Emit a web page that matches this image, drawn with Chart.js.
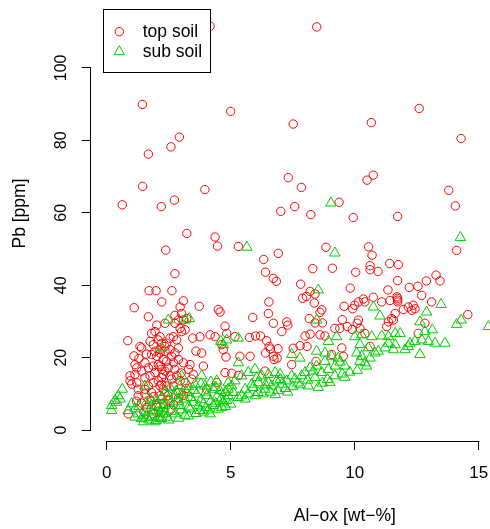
<!DOCTYPE html>
<html lang="en">
<head>
<meta charset="UTF-8">
<title>Pb vs Al-ox</title>
<script src="https://cdn.jsdelivr.net/npm/chart.js"></script>
<style>
  html, body { margin: 0; padding: 0; background: #fff; }
  .frame { position: relative; width: 490px; height: 529px; overflow: hidden; }
  #plot { position: absolute; left: 0; top: -21px; }
</style>
</head>
<body>
<div class="frame"><canvas id="plot" width="610" height="550"></canvas></div>
<script>
// [Al-ox wt-%, Pb ppm]
const topSoil = [
  [4.17,111.5],[8.47,111.3],[1.44,89.9],[5.0,88.0],[12.6,88.8],[10.67,84.9],[7.52,84.5],[2.93,80.9],
  [14.29,80.5],[2.59,78.2],[1.68,76.2],[10.75,70.4],[10.5,69.0],[7.32,69.7],[1.45,67.3],[3.96,66.4],
  [7.85,67.0],[13.79,66.2],[9.37,62.9],[0.63,62.2],[2.2,61.7],[2.73,63.5],[7.58,61.7],[7.02,60.4],
  [14.06,61.9],[8.23,59.5],[9.94,58.7],[11.73,59.0],[3.23,54.3],[4.37,53.3],[4.47,50.8],[2.38,49.7],
  [5.31,50.7],[8.84,50.5],[10.56,50.6],[14.11,49.6],[6.92,48.8],[10.7,48.3],[6.33,47.1],[11.41,46.0],
  [11.76,45.7],[10.62,45.4],[10.62,44.3],[8.31,44.6],[9.1,44.7],[10.94,43.8],[10.04,43.6],[6.4,43.6],
  [2.75,43.2],[6.72,41.9],[6.84,41.1],[11.73,41.3],[13.28,42.8],[13.44,41.2],[12.89,41.2],[7.82,40.3],
  [12.2,39.4],[12.55,39.7],[9.82,39.2],[11.34,38.7],[8.2,38.3],[1.71,38.5],[1.99,38.5],[2.63,38.5],
  // middle band
  [7.9,36.4],[8.05,36.9],[8.4,37.6],[6.54,35.4],[8.37,35.1],[8.67,33.2],[8.6,32.5],[9.57,34.2],
  [9.92,33.5],[10.0,34.5],[6.52,32.2],[5.89,31.1],[6.72,29.5],[7.26,29.9],[7.3,29.0],[7.06,27.2],
  [8.17,30.8],[8.4,29.6],[8.7,29.6],[8.2,26.5],[8.0,26.0],[8.6,26.3],[8.8,26.0],[9.2,28.1],
  [9.5,30.5],[9.4,28.1],[9.7,28.6],[9.9,27.8],[10.1,29.5],[5.17,25.8],[5.75,25.6],[6.0,26.0],
  [6.2,26.0],[6.45,24.7],[6.55,23.1],[6.6,22.4],[6.4,21.3],[6.72,20.4],[6.87,19.9],[6.75,19.5],
  [6.91,22.5],[7.52,22.6],[7.8,23.3],[8.08,23.1],[7.46,18.1],[8.44,19.0],[9.07,20.9],[9.48,22.7],
  [9.54,20.4],[5.37,20.4],[5.78,20.4],[5.04,15.7],[5.31,15.1],[6.38,16.3],
  [12.7,37.2],[11.73,36.4],[11.73,35.9],[11.73,35.4],[11.7,36.8],[13.1,35.4],[10.75,36.7],[10.35,36.2],
  [10.15,35.4],[10.41,35.4],[11.09,35.4],[11.42,35.8],[11.96,33.3],[12.16,34.0],[12.36,34.5],[12.43,33.5],
  [12.3,33.1],[11.63,32.2],[11.49,30.8],[11.56,30.4],[11.36,29.9],[11.29,28.6],[12.83,29.5],[12.56,26.7],
  [14.56,31.9],[10.15,30.4],[10.21,28.1],[10.41,26.7],[10.62,23.1],
  // low Al cluster
  [2.22,35.4],[1.11,33.8],[1.68,31.3],[2.02,29.0],[2.35,29.5],[1.81,26.7],[1.95,27.2],[0.85,24.7],
  [1.34,23.1],[1.41,22.7],[1.75,24.5],[1.88,23.6],[2.08,24.9],[2.22,24.0],[1.95,21.8],[1.81,20.9],
  [2.02,20.4],[2.15,22.2],[1.14,18.1],[1.21,17.2],[1.54,18.6],[1.68,17.2],[1.41,16.3],[1.88,17.7],
  [2.08,18.1],[2.22,16.8],[1.95,15.9],[1.75,15.0],[0.94,15.0],[0.94,13.6],[1.01,12.7],[1.21,13.1],
  [1.27,11.3],[1.54,11.3],[1.68,12.2],[1.88,13.1],[2.08,13.6],[2.22,14.5],[2.15,12.2],[1.54,10.0],
  [1.81,10.4],[1.27,9.5],[1.14,15.4],[1.54,14.5],[1.88,4.5],[0.87,4.5],
  [3.09,35.7],[2.96,34.0],[2.75,31.7],[3.02,32.2],[3.23,30.8],[2.89,30.4],[3.09,30.4],[3.73,34.2],
  [4.5,33.3],[4.57,32.6],[4.77,28.7],[4.84,26.7],[4.64,23.6],[4.7,22.2],[4.81,20.2],[4.17,26.3],
  [4.37,25.8],[3.76,25.8],[3.47,25.4],[3.16,27.7],[3.02,27.2],[2.96,28.1],[2.75,29.5],[2.69,25.8],
  [2.55,25.4],[2.42,24.0],[2.82,24.9],[2.89,22.7],[2.75,21.3],[2.62,20.4],[2.35,21.8],[2.42,19.0],
  [2.69,18.6],[2.89,19.5],[3.09,18.6],[3.36,18.1],[3.6,21.8],[3.83,21.3],[3.9,17.7],[3.49,15.4],
  [3.43,14.1],[3.16,13.1],[2.96,13.6],[2.55,15.0],[2.28,15.4],[2.22,12.7],[2.69,12.2],[2.89,10.4],
  [2.48,9.5],[2.28,11.3],[4.03,11.3],[4.44,13.1],[4.77,15.9],[2.15,25.8],[2.15,21.3],[2.15,17.7],
  [2.15,9.5],[2.35,23.1],[2.55,22.2],[2.28,19.5],[2.48,17.2],[2.75,16.8],[2.35,16.3],[2.62,14.1],
  [2.42,12.2],[2.82,15.0],[2.22,8.6],
  [1.4,7.5],[1.6,6.2],[1.8,8.0],[2.0,6.8],[2.3,7.4],[2.5,8.2],[2.7,7.0],[2.9,8.8],
  [3.1,9.6],[1.5,5.0],[2.1,5.3],[2.6,5.8],[1.9,9.3],[1.2,8.0],[3.2,11.5],[3.0,15.8],
  [3.3,16.8],[1.3,19.8],[1.6,21.0],[1.1,20.5]
];

const subSoil = [
  [9.04,62.7],[5.65,50.5],[9.2,48.9],[14.26,53.2],[8.53,38.7],[8.47,30.4],[5.31,25.4],[9.27,25.8],
  [8.94,24.5],[10.0,25.8],[4.6,24.5],[7.79,19.9],[7.46,20.9],[8.46,21.8],[8.8,21.3],[9.07,20.4],
  [9.34,19.9],[9.41,18.8],[9.61,17.7],[9.21,17.7],[8.8,19.0],[8.46,17.7],[8.33,16.3],[8.67,15.9],
  [8.94,16.8],[8.2,17.2],[5.31,18.6],
  [5.98,16.8],[5.71,15.9],[5.44,15.0],[5.17,13.6],[5.04,12.2],[4.9,11.3],[5.1,10.4],[5.44,9.5],
  [5.58,11.3],[5.85,12.7],[6.11,13.1],[6.25,15.0],[6.52,15.4],[6.79,15.9],[6.99,15.4],[6.85,13.6],
  [6.52,13.1],[6.38,11.3],[6.11,10.4],[6.05,14.5],[7.26,13.6],[7.59,14.1],[8.13,12.2],[8.53,11.8],
  [8.0,15.9],[7.86,15.0],[7.46,15.0],[7.06,12.7],[6.65,12.2],[5.58,8.6],
  [5.3,9.0],[5.7,10.0],[6.0,9.5],[6.3,10.0],[6.6,10.5],[6.9,11.0],[7.2,11.5],[7.5,12.0],
  [7.8,12.5],[6.8,9.8],[7.3,10.5],[5.9,11.8],[6.4,12.5],[7.0,14.0],[7.7,13.0],[8.1,13.8],
  [8.4,14.5],[8.9,14.0],[9.2,15.0],[9.5,15.5],[9.8,16.0],[9.0,13.2],[9.6,14.6],[10.1,16.5],[8.7,13.0],
  [13.48,34.7],[10.75,34.0],[11.02,31.5],[12.9,32.6],[12.63,29.9],[13.13,27.7],[12.83,27.2],[14.29,30.4],
  [14.11,29.2],[15.39,28.6],[13.64,24.0],[13.24,24.0],[12.97,24.5],[12.7,24.9],[12.43,24.5],[12.23,24.0],
  [12.03,22.2],[12.63,20.9],[11.63,26.7],[11.83,26.7],[11.36,25.8],[11.09,26.0],[10.69,25.8],[10.28,26.3],
  [11.56,22.2],[11.22,22.7],[10.95,21.8],[10.82,21.3],[10.55,22.7],[10.21,23.6],[10.08,21.3],[10.28,20.4],
  [10.41,18.6],[10.48,17.7],[10.21,19.0],[10.62,19.9],[11.36,24.0],[11.63,23.6],[12.16,23.1],
  [0.63,11.3],[0.47,9.5],[0.33,8.2],[0.2,6.8],[0.2,5.4],[0.4,7.7],[0.54,8.6],[1.01,7.3],
  [1.14,5.9],[0.87,5.4],[1.27,4.5],[1.48,4.1],[1.41,3.2],[1.48,2.3],[1.95,2.3],[1.54,12.2],
  [1.75,8.6],[2.02,8.2],[2.22,9.1],[1.81,6.8],[2.08,6.3],[2.28,6.8],[1.88,5.4],[2.15,5.0],
  [1.68,5.0],[2.28,4.5],[2.08,3.6],[1.81,3.6],[1.61,3.6],[2.22,3.2],[1.14,3.6],
  [2.48,30.4],[3.33,30.8],[3.16,30.4],[2.22,22.7],[4.84,24.9],[4.7,23.6],[3.02,15.0],[3.83,15.0],
  [4.44,13.6],[4.9,13.1],[3.56,12.7],[3.96,12.2],[4.3,11.3],[4.57,10.9],[4.77,10.4],[2.96,12.2],
  [2.55,11.8],[3.23,10.4],[3.63,10.0],[4.03,9.5],[4.44,9.1],[4.84,8.2],[2.35,10.4],[2.75,9.5],
  [3.16,8.6],[3.49,7.7],[3.9,7.3],[4.3,6.8],[4.64,6.3],[2.55,7.3],[2.96,6.8],[3.36,5.9],
  [3.76,5.4],[2.75,4.5],[3.16,4.1],[2.28,5.9],[2.42,3.6],[4.17,4.5],[2.15,3.2],
  [2.5,2.8],[2.9,3.3],[3.3,3.9],[3.6,4.6],[3.9,5.0],[4.1,5.6],[4.5,5.8],[4.8,6.5],
  [2.6,5.2],[3.0,5.6],[3.3,6.4],[3.7,6.7],[4.0,6.2],[4.4,7.4],[4.7,7.8],[2.5,8.6],
  [2.9,8.0],[3.4,9.0],[3.8,8.4],[4.2,8.0],[4.6,8.6],[3.0,9.8],[3.5,11.0],[4.0,10.5],
  [4.4,11.8],[2.8,10.8],[3.3,12.0],[3.8,12.8],[4.2,13.3],[4.9,9.5],[5.0,7.2],[1.7,2.8],
  [2.0,2.7],[1.3,6.5],[1.6,7.6]
];

const xTicks = [0, 5, 10, 15];
const yTicks = [0, 20, 40, 60, 80, 100];

const FONT = '"Liberation Sans", Arial, Helvetica, sans-serif';
Chart.defaults.font.family = FONT;
Chart.defaults.color = '#000';

const toPoints = rows => rows.map(r => ({ x: r[0], y: r[1] }));

// axis lines only span first..last tick, like base graphics
const axisLines = {
  id: 'axisLines',
  afterDraw(chart) {
    const { ctx, chartArea, scales } = chart;
    const by = Math.round(chartArea.bottom - 0.5) + 0.5;
    const lx = Math.round(chartArea.left - 0.5) + 0.5;
    ctx.save();
    ctx.strokeStyle = '#000';
    ctx.lineWidth = 1;
    ctx.beginPath();
    ctx.moveTo(Math.round(scales.x.getPixelForValue(xTicks[0])) - 0.5, by);
    ctx.lineTo(Math.round(scales.x.getPixelForValue(xTicks[xTicks.length - 1])) + 0.5, by);
    ctx.moveTo(lx, Math.round(scales.y.getPixelForValue(yTicks[0])) + 0.5);
    ctx.lineTo(lx, Math.round(scales.y.getPixelForValue(yTicks[yTicks.length - 1])) - 0.5);
    ctx.stroke();
    ctx.restore();
  }
};

// boxed legend in the top-left corner
const legendBox = {
  id: 'legendBox',
  afterDatasetsDraw(chart) {
    const ctx = chart.ctx;
    const bx = 103.5, by = 30.5, bw = 107, bh = 63;
    ctx.save();
    ctx.fillStyle = '#fff';
    ctx.fillRect(bx, by, bw, bh);
    ctx.strokeStyle = '#000';
    ctx.lineWidth = 1;
    ctx.strokeRect(bx, by, bw, bh);
    chart.data.datasets.forEach((ds, i) => {
      const mx = 119.3, my = 52.7 + i * 20;
      const r = ds.pointRadius;
      ctx.strokeStyle = ds.borderColor;
      ctx.beginPath();
      if (ds.pointStyle === 'triangle') {
        ctx.moveTo(mx, my - r);
        ctx.lineTo(mx + r * Math.sin(Math.PI * 2 / 3), my - r * Math.cos(Math.PI * 2 / 3));
        ctx.lineTo(mx + r * Math.sin(Math.PI * 4 / 3), my - r * Math.cos(Math.PI * 4 / 3));
        ctx.closePath();
      } else {
        ctx.arc(mx, my, r, 0, Math.PI * 2);
      }
      ctx.stroke();
      ctx.fillStyle = '#000';
      ctx.font = '17.5px ' + FONT;
      ctx.textBaseline = 'middle';
      ctx.textAlign = 'left';
      ctx.fillText(ds.label, 142.7, my);
    });
    ctx.restore();
  }
};

const tickMarks = {
  display: true,
  drawOnChartArea: false,
  drawTicks: true,
  tickLength: 9,
  tickColor: '#000',
  tickWidth: 1
};

new Chart(document.getElementById('plot'), {
  type: 'scatter',
  data: {
    datasets: [
      {
        label: 'top soil',
        data: toPoints(topSoil),
        pointStyle: 'circle',
        pointRadius: 4.2,
        borderWidth: 1,
        borderColor: '#FF0000',
        backgroundColor: 'rgba(0,0,0,0)',
        order: 1
      },
      {
        label: 'sub soil',
        data: toPoints(subSoil),
        pointStyle: 'triangle',
        pointRadius: 6,
        borderWidth: 1,
        borderColor: '#00CD00',
        backgroundColor: 'rgba(0,0,0,0)',
        order: 0
      }
    ]
  },
  options: {
    responsive: false,
    animation: false,
    devicePixelRatio: 1,
    events: [],
    layout: { padding: { left: 0, right: 11, top: 0, bottom: 0 } },
    plugins: {
      legend: { display: false },
      tooltip: { enabled: false }
    },
    scales: {
      x: {
        type: 'linear',
        min: -0.645,
        max: 19.85,
        afterBuildTicks(s) { s.ticks = xTicks.map(v => ({ value: v })); },
        afterFit(s) {
          s.height = 88;
          s.paddingLeft = 0; s.paddingRight = 0;
        },
        grid: tickMarks,
        border: { display: false },
        ticks: { font: { size: 17 }, padding: 13, autoSkip: false, maxRotation: 0 },
        title: {
          display: true,
          text: 'Al\u2212ox [wt\u2212%]',
          font: { size: 17.5 },
          padding: { top: 0, bottom: 2 }
        }
      },
      y: {
        type: 'linear',
        min: -2.99,
        max: 122.6,
        afterBuildTicks(s) { s.ticks = yTicks.map(v => ({ value: v })); },
        afterFit(s) {
          s.width = 90.7;
          s.paddingTop = 0; s.paddingBottom = 0;
        },
        grid: tickMarks,
        border: { display: false },
        ticks: {
          font: { size: 16 },
          padding: 6.5,
          autoSkip: false,
          minRotation: 90,
          maxRotation: 90,
          crossAlign: 'center'
        },
        title: {
          display: true,
          text: 'Pb [ppm]',
          font: { size: 17.5 },
          padding: { top: 9.5, bottom: 0 }
        }
      }
    }
  },
  plugins: [axisLines, legendBox]
});
</script>
</body>
</html>
